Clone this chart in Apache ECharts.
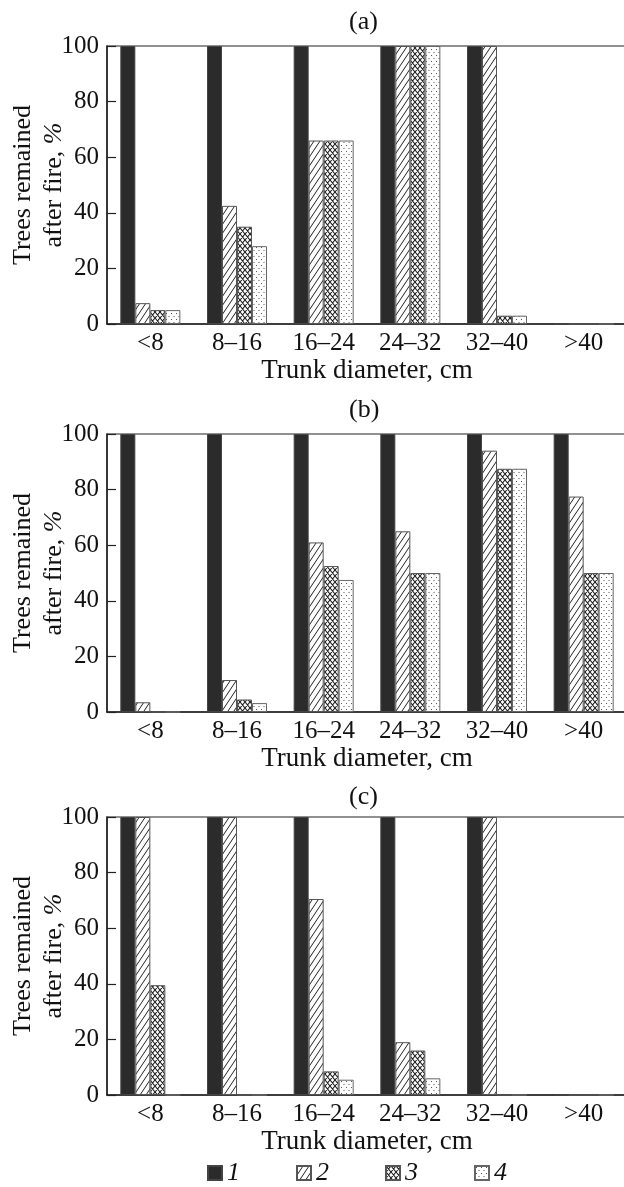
<!DOCTYPE html>
<html>
<head>
<meta charset="utf-8">
<script src="https://cdn.jsdelivr.net/npm/echarts@6/dist/echarts.min.js"></script>
<style>
  html, body { margin: 0; padding: 0; background: #fff; }
  #chart { width: 624px; height: 1187px; }
</style>
</head>
<body>
<div id="chart"></div>
<script>
// ---- data ----
const categories = ['<8', '8–16', '16–24', '24–32', '32–40', '>40'];
const seriesNames = ['1', '2', '3', '4'];
const panelTitles = ['(a)', '(b)', '(c)'];
const yTicks = [0, 20, 40, 60, 80, 100];

const a1 = [100, 100, 100, 100, 100, 0];
const a2 = [7.5, 42.5, 66, 100, 100, 0];
const a3 = [5, 35, 66, 100, 3, 0];
const a4 = [5, 28, 66, 100, 3, 0];

const b1 = [100, 100, 100, 100, 100, 100];
const b2 = [3.5, 11.5, 61, 65, 94, 77.5];
const b3 = [0, 4.5, 52.5, 50, 87.5, 50];
const b4 = [0, 3.2, 47.5, 50, 87.5, 50];

const c1 = [100, 100, 100, 100, 100, 0];
const c2 = [100, 100, 70.5, 19, 100, 0];
const c3 = [39.5, 0, 8.5, 16, 0, 0];
const c4 = [0, 0, 5.5, 6, 0, 0];

const panels = [[a1, a2, a3, a4], [b1, b2, b3, b4], [c1, c2, c3, c4]];

// ---- patterns ----
function makeCanvas(w, h, draw) {
  const c = document.createElement('canvas');
  c.width = w; c.height = h;
  const ctx = c.getContext('2d');
  ctx.fillStyle = '#fff';
  ctx.fillRect(0, 0, w, h);
  draw(ctx, w, h);
  return c;
}
const hatch = makeCanvas(6, 9, (ctx, w, h) => {
  ctx.strokeStyle = '#222';
  ctx.lineWidth = 1;
  ctx.beginPath();
  ctx.moveTo(-w, 2 * h); ctx.lineTo(2 * w, -h);
  ctx.moveTo(-2 * w, 2 * h); ctx.lineTo(w, -h);
  ctx.moveTo(0, 2 * h); ctx.lineTo(3 * w, -h);
  ctx.stroke();
});
const cross = makeCanvas(5, 6, (ctx, w, h) => {
  ctx.strokeStyle = '#1a1a1a';
  ctx.lineWidth = 1.1;
  ctx.beginPath();
  ctx.moveTo(0, 0); ctx.lineTo(w, h);
  ctx.moveTo(-w, 0); ctx.lineTo(0, h);
  ctx.moveTo(w, 0); ctx.lineTo(2 * w, h);
  ctx.moveTo(0, h); ctx.lineTo(w, 0);
  ctx.moveTo(-w, h); ctx.lineTo(0, 0);
  ctx.moveTo(w, h); ctx.lineTo(2 * w, 0);
  ctx.stroke();
});
const dots = makeCanvas(5, 6, (ctx) => {
  ctx.fillStyle = '#555';
  ctx.fillRect(1, 1, 1, 1);
  ctx.fillRect(3.5, 4, 1, 1);
});

const fills = [
  '#2b2b2b',
  { image: hatch, repeat: 'repeat' },
  { image: cross, repeat: 'repeat' },
  { image: dots, repeat: 'repeat' }
];
const borders = ['#444', '#555', '#555', '#666'];

// ---- layout ----
const gridTops = [46, 434, 817];
const gridH = 278;
const titleTops = [9, 397, 784];
const serif = '"Liberation Serif", "Times New Roman", serif';

const option = {
  animation: false,
  backgroundColor: '#fff',
  title: panelTitles.map((t, i) => ({
    text: t,
    left: 349,
    top: titleTops[i],
    padding: 0,
    textStyle: { fontFamily: serif, fontSize: 26, fontWeight: 'normal', color: '#111' }
  })),
  legend: {
    data: seriesNames,
    left: 202,
    top: 1155,
    itemWidth: 14,
    itemHeight: 14,
    itemGap: 56,
    icon: 'rect',
    selectedMode: false,
    textStyle: { fontFamily: serif, fontSize: 26, fontStyle: 'italic', color: '#111' }
  },
  grid: gridTops.map(t => ({
    left: 107,
    top: t,
    width: 520,
    height: gridH,
    outerBoundsMode: 'none',
    containLabel: false,
    show: true,
    borderColor: '#222',
    borderWidth: 1.2,
    backgroundColor: 'transparent'
  })),
  xAxis: gridTops.map((t, i) => ({
    type: 'category',
    gridIndex: i,
    data: categories,
    name: 'Trunk diameter, cm',
    nameLocation: 'middle',
    nameGap: 33,
    nameMoveOverlap: false,
    nameTextStyle: { fontFamily: serif, fontSize: 27, color: '#111' },
    axisLine: { lineStyle: { color: '#222', width: 1.5 } },
    axisTick: { show: false },
    axisLabel: { interval: 0, margin: 7, fontFamily: serif, fontSize: 25, color: '#111' },
    splitLine: { show: false }
  })),
  yAxis: gridTops.map((t, i) => ({
    type: 'value',
    gridIndex: i,
    min: yTicks[0],
    max: yTicks[yTicks.length - 1],
    interval: yTicks[1] - yTicks[0],
    name: '{n|Trees remained}\n{n|after fire, }{i|%}',
    nameLocation: 'middle',
    nameGap: 37,
    nameMoveOverlap: false,
    nameTextStyle: {
      fontFamily: serif, fontSize: 26, color: '#111', lineHeight: 31,
      rich: {
        n: { fontFamily: serif, fontSize: 26, color: '#111', lineHeight: 31 },
        i: { fontFamily: serif, fontSize: 26, color: '#111', fontStyle: 'italic', lineHeight: 31 }
      }
    },
    axisLine: { show: true, lineStyle: { color: '#222', width: 1.5 } },
    axisTick: { show: true, inside: true, length: 9, lineStyle: { color: '#222', width: 1.2 } },
    axisLabel: { margin: 8, fontFamily: serif, fontSize: 25, color: '#111' },
    splitLine: { show: false }
  })),
  series: []
};

panels.forEach((vals, p) => {
  vals.forEach((v, s) => {
    option.series.push({
      name: seriesNames[s],
      type: 'bar',
      xAxisIndex: p,
      yAxisIndex: p,
      data: v,
      barWidth: 15,
      barGap: '0%',
      itemStyle: { color: fills[s], borderColor: borders[s], borderWidth: 1 }
    });
  });
});

const chart = echarts.init(document.getElementById('chart'), null, { renderer: 'canvas' });
chart.setOption(option);
</script>
</body>
</html>
